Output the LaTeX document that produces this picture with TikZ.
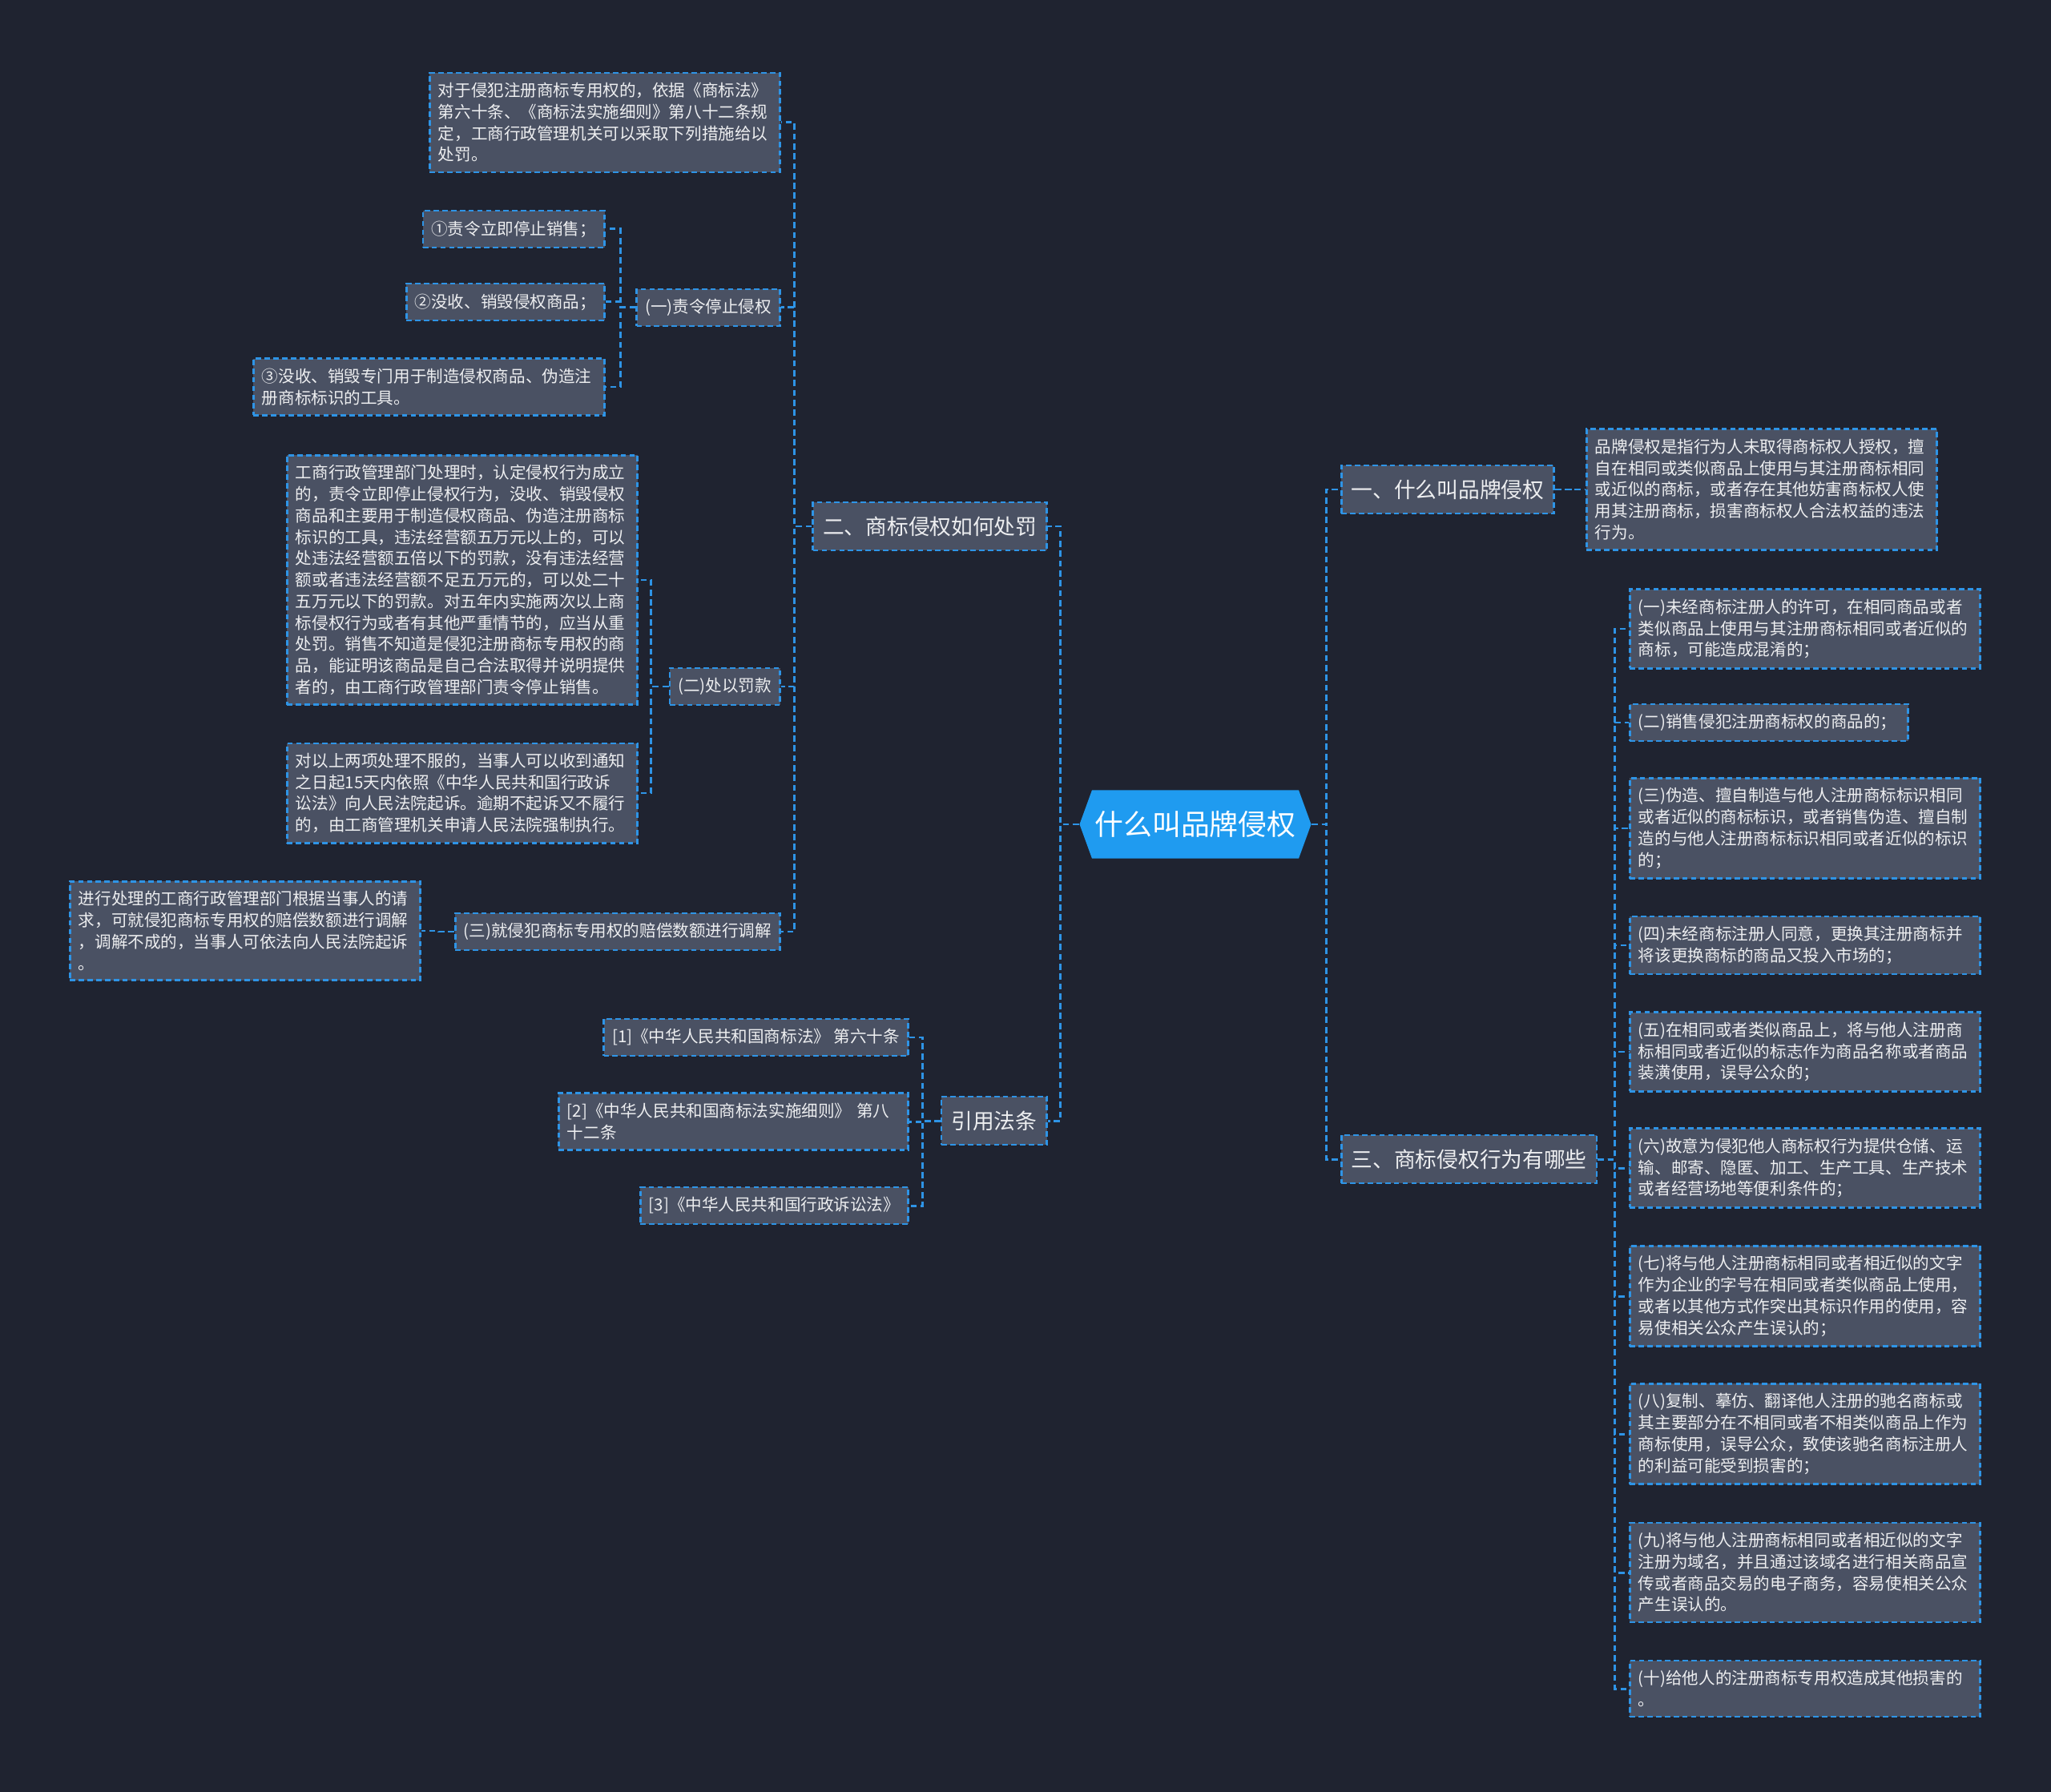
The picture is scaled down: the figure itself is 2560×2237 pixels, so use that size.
\documentclass[tikz,border=0pt]{standalone}
\usepackage{fontspec}
\setmainfont{Noto Sans CJK SC}
\usepackage{tikz}
\usetikzlibrary{shapes.symbols}
\definecolor{bgdark}{HTML}{1F2330}
\definecolor{boxgrey}{HTML}{4A5163}
\definecolor{linkblue}{HTML}{2E94E6}
\definecolor{rootblue}{HTML}{1F9BF0}
\definecolor{textlight}{HTML}{EDEEF0}

\begin{document}
\begin{tikzpicture}[x=0.01cm, y=-0.01cm,
    box/.style={draw=linkblue, fill=boxgrey, line width=0.75pt, dash pattern=on 1.9pt off 1.2pt,
      text=textlight, inner xsep=3pt, inner ysep=3.5pt, font=\fontsize{5.85}{7.6}\selectfont},
    leaf/.style={box, text width=#1, align=left},
    sub/.style={box, minimum height=0.46cm},
    topic/.style={box, inner xsep=3.5pt, minimum height=0.6cm, font=\fontsize{7.6}{9}\selectfont},
    link/.style={draw=linkblue, line width=0.85pt, dash pattern=on 2.2pt off 1.3pt}]
    % Canvas
    \fill[bgdark] (0,0) rectangle (2560,2237);
    \useasboundingbox (0,0) rectangle (2560,2237);
    % Root
    \node[signal, signal to=east and west, signal pointer angle=140, fill=rootblue, text=white,
      minimum height=0.85cm, inner xsep=1pt, font=\fontsize{10.2}{12}\selectfont] (root) at (1492,1029) {什么叫品牌侵权};
    % Main topics
    \node[topic, anchor=east] (punish) at (1308,657) {二、商标侵权如何处罚};
    \node[topic, anchor=east] (cite) at (1308,1399) {引用法条};
    \node[topic, anchor=west] (whatis) at (1673,611) {一、什么叫品牌侵权};
    \node[topic, anchor=west] (acts) at (1673,1447) {三、商标侵权行为有哪些};
    % Branch: how to punish
    \node[leaf=4.16cm, anchor=east] (intro) at (975,153) {对于侵犯注册商标专用权的，依据《商标法》\\第六十条、《商标法实施细则》第八十二条规\\定，工商行政管理机关可以采取下列措施给以\\处罚。};
    \node[sub, anchor=east] (stop) at (975,384) {(一)责令停止侵权};
    \node[sub, anchor=east] (stopA) at (756,286) {①责令立即停止销售；};
    \node[sub, anchor=east] (stopB) at (756,377) {②没收、销毁侵权商品；};
    \node[leaf=4.17cm, anchor=east] (stopC) at (756,483) {③没收、销毁专门用于制造侵权商品、伪造注\\册商标标识的工具。};
    \node[sub, anchor=east] (fine) at (975,857) {(二)处以罚款};
    \node[leaf=4.16cm, anchor=east] (fineA) at (797,724) {工商行政管理部门处理时，认定侵权行为成立\\的，责令立即停止侵权行为，没收、销毁侵权\\商品和主要用于制造侵权商品、伪造注册商标\\标识的工具，违法经营额五万元以上的，可以\\处违法经营额五倍以下的罚款，没有违法经营\\额或者违法经营额不足五万元的，可以处二十\\五万元以下的罚款。对五年内实施两次以上商\\标侵权行为或者有其他严重情节的，应当从重\\处罚。销售不知道是侵犯注册商标专用权的商\\品，能证明该商品是自己合法取得并说明提供\\者的，由工商行政管理部门责令停止销售。};
    \node[leaf=4.16cm, anchor=east] (fineB) at (797,990) {对以上两项处理不服的，当事人可以收到通知\\之日起15天内依照《中华人民共和国行政诉\\讼法》向人民法院起诉。逾期不起诉又不履行\\的，由工商管理机关申请人民法院强制执行。};
    \node[sub, anchor=east] (mediate) at (975,1163) {(三)就侵犯商标专用权的赔偿数额进行调解};
    \node[leaf=4.16cm, anchor=east] (mediateA) at (526,1162) {进行处理的工商行政管理部门根据当事人的请\\求，可就侵犯商标专用权的赔偿数额进行调解\\，调解不成的，当事人可依法向人民法院起诉\\。};
    % Branch: cited law
    \node[sub, anchor=east] (citeA) at (1135,1295) {[1]《中华人民共和国商标法》~第六十条};
    \node[leaf=4.15cm, anchor=east] (citeB) at (1135,1400) {[2]《中华人民共和国商标法实施细则》~第八\\十二条};
    \node[sub, anchor=east] (citeC) at (1135,1505) {[3]《中华人民共和国行政诉讼法》};
    % Branch: what it is
    \node[leaf=4.16cm, anchor=west] (whatisA) at (1979,611) {品牌侵权是指行为人未取得商标权人授权，擅\\自在相同或类似商品上使用与其注册商标相同\\或近似的商标，或者存在其他妨害商标权人使\\用其注册商标，损害商标权人合法权益的违法\\行为。};
    % Branch: infringing acts
    \node[leaf=4.16cm, anchor=west] (actA) at (2033,785) {(一)未经商标注册人的许可，在相同商品或者\\类似商品上使用与其注册商标相同或者近似的\\商标，可能造成混淆的；};
    \node[leaf=3.26cm, anchor=west] (actB) at (2033,902) {(二)销售侵犯注册商标权的商品的；};
    \node[leaf=4.16cm, anchor=west] (actC) at (2033,1034) {(三)伪造、擅自制造与他人注册商标标识相同\\或者近似的商标标识，或者销售伪造、擅自制\\造的与他人注册商标标识相同或者近似的标识\\的；};
    \node[leaf=4.16cm, anchor=west] (actD) at (2033,1180) {(四)未经商标注册人同意，更换其注册商标并\\将该更换商标的商品又投入市场的；};
    \node[leaf=4.16cm, anchor=west] (actE) at (2033,1313) {(五)在相同或者类似商品上，将与他人注册商\\标相同或者近似的标志作为商品名称或者商品\\装潢使用，误导公众的；};
    \node[leaf=4.16cm, anchor=west] (actF) at (2033,1458) {(六)故意为侵犯他人商标权行为提供仓储、运\\输、邮寄、隐匿、加工、生产工具、生产技术\\或者经营场地等便利条件的；};
    \node[leaf=4.16cm, anchor=west] (actG) at (2033,1618) {(七)将与他人注册商标相同或者相近似的文字\\作为企业的字号在相同或者类似商品上使用，\\或者以其他方式作突出其标识作用的使用，容\\易使相关公众产生误认的；};
    \node[leaf=4.16cm, anchor=west] (actH) at (2033,1790) {(八)复制、摹仿、翻译他人注册的驰名商标或\\其主要部分在不相同或者不相类似商品上作为\\商标使用，误导公众，致使该驰名商标注册人\\的利益可能受到损害的；};
    \node[leaf=4.16cm, anchor=west] (actI) at (2033,1963) {(九)将与他人注册商标相同或者相近似的文字\\注册为域名，并且通过该域名进行相关商品宣\\传或者商品交易的电子商务，容易使相关公众\\产生误认的。};
    \node[leaf=4.16cm, anchor=west] (actJ) at (2033,2108) {(十)给他人的注册商标专用权造成其他损害的\\。};
    % Connectors from root
    \draw[link] (root.west) -- ++(-23,0) |- (punish.east);
    \draw[link] (root.west) -- ++(-23,0) |- (cite.east);
    \draw[link] (root.east) -- ++(18,0) |- (whatis.west);
    \draw[link] (root.east) -- ++(18,0) |- (acts.west);
    % Connectors, left side
    \draw[link] (punish.west) -- ++(-22,0) |- (intro.east);
    \draw[link] (punish.west) -- ++(-22,0) |- (stop.east);
    \draw[link] (punish.west) -- ++(-22,0) |- (fine.east);
    \draw[link] (punish.west) -- ++(-22,0) |- (mediate.east);
    \draw[link] (stop.west) -- ++(-19,0) |- (stopA.east);
    \draw[link] (stop.west) -- ++(-19,0) |- (stopB.east);
    \draw[link] (stop.west) -- ++(-19,0) |- (stopC.east);
    \draw[link] (fine.west) -- ++(-22,0) |- (fineA.east);
    \draw[link] (fine.west) -- ++(-22,0) |- (fineB.east);
    \draw[link] (mediate.west) -- ++(-20,0) |- (mediateA.east);
    \draw[link] (cite.west) -- ++(-22,0) |- (citeA.east);
    \draw[link] (cite.west) -- ++(-22,0) |- (citeB.east);
    \draw[link] (cite.west) -- ++(-22,0) |- (citeC.east);
    % Connectors, right side
    \draw[link] (whatis.east) -- ++(20,0) |- (whatisA.west);
    \draw[link] (acts.east) -- ++(21,0) |- (actA.west);
    \draw[link] (acts.east) -- ++(21,0) |- (actB.west);
    \draw[link] (acts.east) -- ++(21,0) |- (actC.west);
    \draw[link] (acts.east) -- ++(21,0) |- (actD.west);
    \draw[link] (acts.east) -- ++(21,0) |- (actE.west);
    \draw[link] (acts.east) -- ++(21,0) |- (actF.west);
    \draw[link] (acts.east) -- ++(21,0) |- (actG.west);
    \draw[link] (acts.east) -- ++(21,0) |- (actH.west);
    \draw[link] (acts.east) -- ++(21,0) |- (actI.west);
    \draw[link] (acts.east) -- ++(21,0) |- (actJ.west);
\end{tikzpicture}
\end{document}
